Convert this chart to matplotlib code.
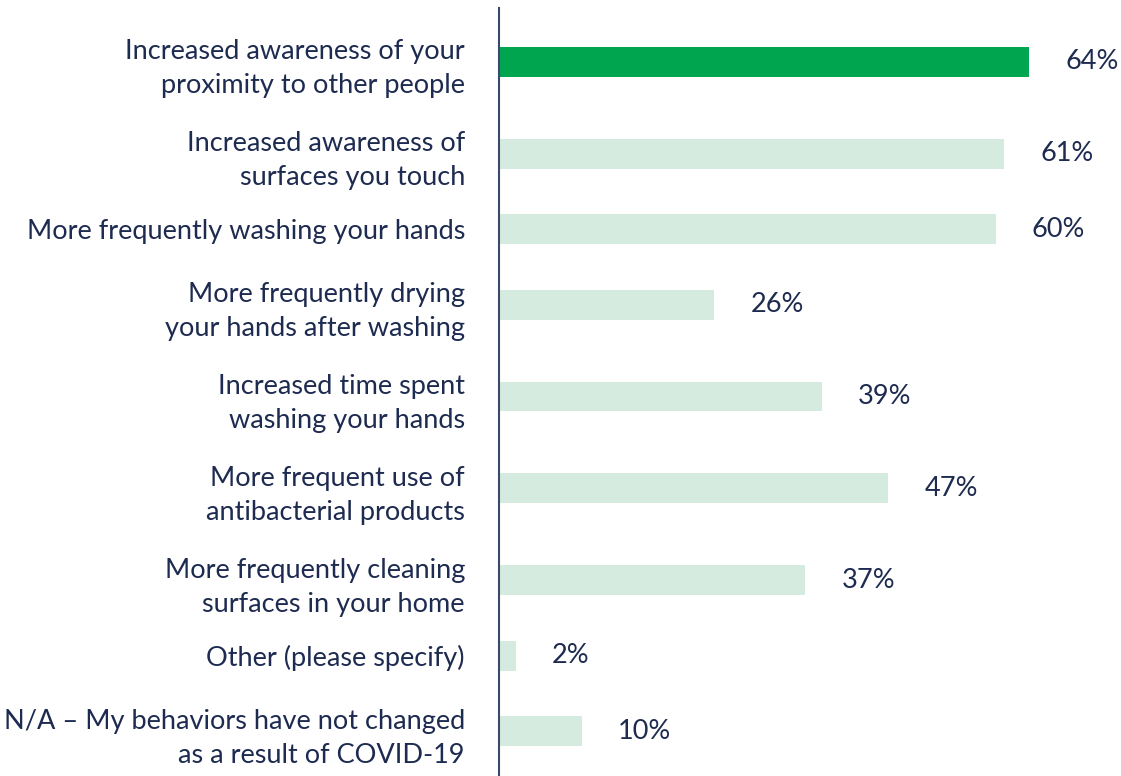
import matplotlib
matplotlib.use("Agg")
import matplotlib.pyplot as plt

categories = [
    "Increased awareness of your\nproximity to other people",
    "Increased awareness of\nsurfaces you touch",
    "More frequently washing your hands",
    "More frequently drying\nyour hands after washing",
    "Increased time spent\nwashing your hands",
    "More frequent use of\nantibacterial products",
    "More frequently cleaning\nsurfaces in your home",
    "Other (please specify)",
    "N/A – My behaviors have not changed\nas a result of COVID-19",
]
values = [64, 61, 60, 26, 39, 47, 37, 2, 10]
value_labels = [f"{v}%" for v in values]
highlight_index = 0

GREEN = "#00A64F"
PALE = "#D5EBDF"
TEXT = "#1E2B50"
AXIS = "#3A4A6A"

plt.rcParams["font.family"] = ["Lato", "DejaVu Sans"]

W, H, DPI = 1121, 776, 100
fig = plt.figure(figsize=(W / DPI, H / DPI), dpi=DPI)
ax_left, ax_right = 499, 1121
ax_top, ax_bottom = 8, 776
ax = fig.add_axes([ax_left / W, 1 - ax_bottom / H, (ax_right - ax_left) / W, (ax_bottom - ax_top) / H])

# y positions from label line counts (pixel-like units, top to bottom)
def half(n):
    return 29.5 + 16.5 * (n - 1)

lines = [c.count("\n") + 1 for c in categories]
ys = [0.0]
for i in range(1, len(categories)):
    ys.append(ys[-1] + half(lines[i - 1]) + half(lines[i]))

colors = [GREEN if i == highlight_index else PALE for i in range(len(values))]
ax.barh(ys, values, height=30, color=colors, zorder=2)

ax.set_ylim(ys[-1] + 45, ys[0] - 54)
px_per_unit = 530 / 64
ax.set_xlim(0, (ax_right - ax_left) / px_per_unit)

for y, v, lab in zip(ys, values, value_labels):
    ax.annotate(lab, xy=(v, y), xytext=(26, 0), textcoords="offset points",
                ha="left", va="center", fontsize=19.5, color=TEXT)

ax.set_yticks(ys)
ax.set_yticklabels(categories, fontsize=19.5, color=TEXT)
for t in ax.get_yticklabels():
    t.set_multialignment("right")
    t.set_linespacing(1.45)
ax.tick_params(axis="y", length=0, pad=24.5)
ax.set_xticks([])
for s in ["top", "right", "bottom"]:
    ax.spines[s].set_visible(False)
ax.spines["left"].set_color(AXIS)
ax.spines["left"].set_linewidth(1.5)
ax.spines["left"].set_zorder(3)

fig.savefig("out.png", dpi=DPI)
